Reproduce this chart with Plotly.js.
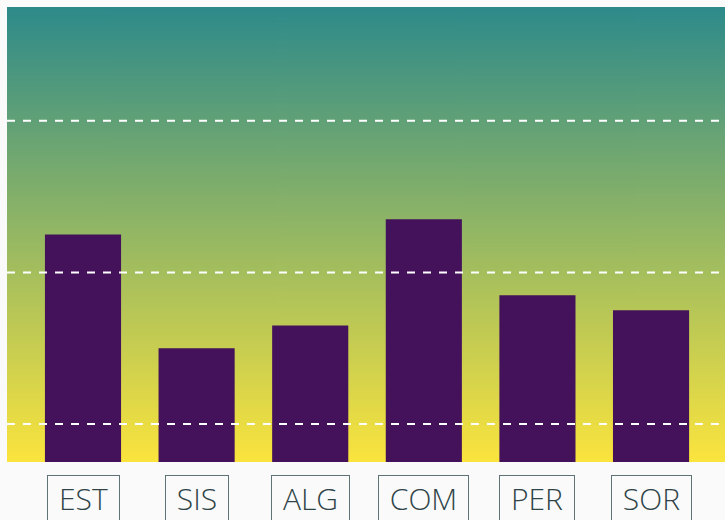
<!DOCTYPE html>
<html>
<head>
<meta charset="utf-8">
<script src="https://cdn.plot.ly/plotly-3.0.1.min.js"></script>
<style>
  html, body { margin: 0; padding: 0; background: #fafafa; }
  #chart { width: 725px; height: 520px; }
</style>
</head>
<body>
<div id="chart"></div>
<script>
// ---- data ----
const categories = ["EST", "SIS", "ALG", "COM", "PER", "SOR"];
const values = [45, 30, 33, 47, 37, 35];
const gridValues = [20, 40, 60];
const yRange = [15, 75];

// ---- styles ----
const barColor = "#44125a";
const gradTop = "#2d8a8a";
const gradBottom = "#fbe43d";
const labelFont = "'Open Sans', 'Noto Sans', sans-serif";
const labelSize = 30;
const labelWeight = 300;

// gradient background image
const cv = document.createElement("canvas");
cv.width = 4; cv.height = 455;
const ctx = cv.getContext("2d");
const g = ctx.createLinearGradient(0, 0, 0, cv.height);
g.addColorStop(0, gradTop);
g.addColorStop(1, gradBottom);
ctx.fillStyle = g;
ctx.fillRect(0, 0, cv.width, cv.height);
const gradURL = cv.toDataURL();

// measure label widths
const mctx = document.createElement("canvas").getContext("2d");
mctx.font = labelWeight + " " + labelSize + "px " + labelFont;

const trace = {
  type: "bar",
  x: categories,
  y: values,
  marker: { color: barColor, line: { width: 0 } },
  width: 0.67,
  hoverinfo: "x+y"
};

const shapes = gridValues.map(v => ({
  type: "line", xref: "paper", yref: "y",
  x0: 0, x1: 1, y0: v, y1: v,
  layer: "above",
  line: { color: "#ffffff", width: 2, dash: "8px,8px" }
}));

const annotations = categories.map(c => ({
  x: c, xref: "x",
  y: 0, yref: "paper",
  yanchor: "top", xanchor: "center",
  yshift: -13,
  text: c,
  showarrow: false,
  font: { family: labelFont, size: labelSize, color: "#2f4448", weight: labelWeight },
  bordercolor: "#5f7276",
  borderwidth: 1,
  borderpad: 2,
  valign: "top",
  height: 50,
  width: Math.round(mctx.measureText(c).width + 18)
}));

const layout = {
  width: 725,
  height: 520,
  margin: { l: 7, r: 0, t: 7, b: 58, pad: 0 },
  paper_bgcolor: "#fafafa",
  plot_bgcolor: "rgba(0,0,0,0)",
  showlegend: false,
  xaxis: {
    type: "category",
    range: [-0.669, 5.651],
    showticklabels: false,
    showgrid: false,
    zeroline: false,
    showline: false,
    ticks: "",
    fixedrange: true
  },
  yaxis: {
    range: yRange,
    tickvals: gridValues,
    showticklabels: false,
    showgrid: false,
    zeroline: false,
    showline: false,
    ticks: "",
    fixedrange: true
  },
  images: [{
    source: gradURL,
    xref: "paper", yref: "paper",
    x: 0, y: 1, sizex: 1, sizey: 1,
    xanchor: "left", yanchor: "top",
    sizing: "stretch",
    layer: "below"
  }],
  shapes: shapes,
  annotations: annotations
};

Plotly.newPlot("chart", [trace], layout, { displayModeBar: false, staticPlot: true });
</script>
</body>
</html>
